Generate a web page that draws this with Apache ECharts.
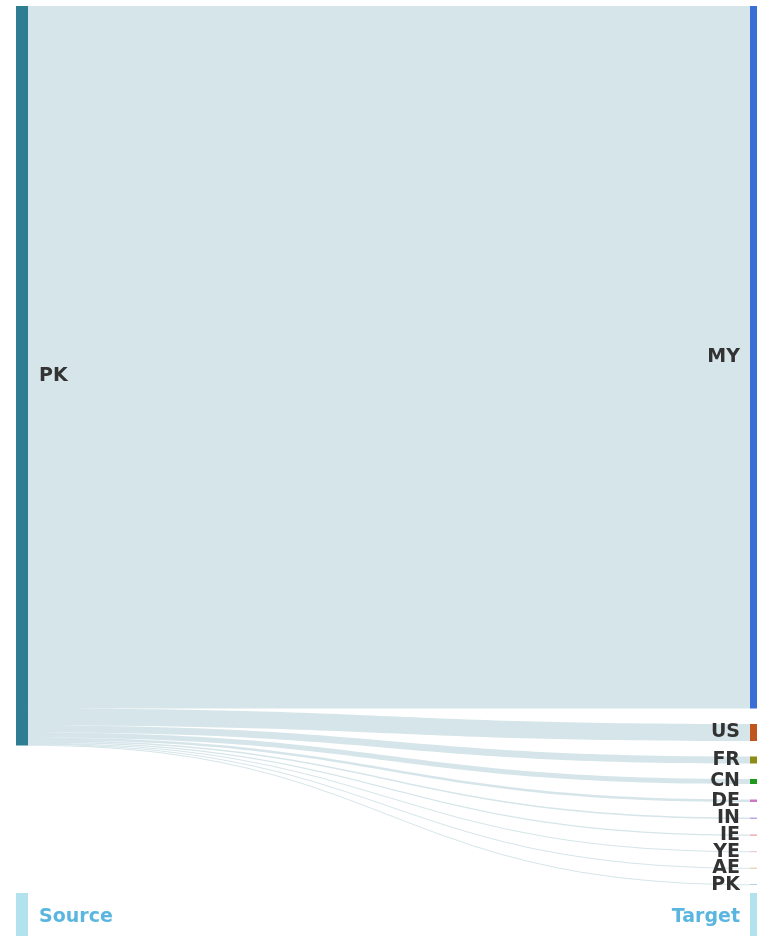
<!DOCTYPE html>
<html>
<head>
<meta charset="utf-8">
<script src="https://cdn.jsdelivr.net/npm/echarts@6/dist/echarts.min.js"></script>
<style>
  html, body { margin: 0; padding: 0; background: #fff; }
  #main { width: 757px; height: 936px; }
</style>
</head>
<body>
<div id="main"></div>
<script>
// source country and where its flows go
const sourceName = "PK";
const targetNames = ["MY", "US", "FR", "CN", "DE", "IN", "IE", "YE", "AE", "PK"];
const flowValues = [7020, 170, 70, 50, 25, 15, 12, 10, 10, 8];

// the "Source" / "Target" key at the bottom
const keyNames = ["Source", "Target"];
const keyValue = [1];

const sourceColor = "#2e7d92";
const targetColors = ["#3b6fd8", "#c0561e", "#8c8c18", "#1f9a1f", "#c878c4",
  "#bca6e4", "#ee9a9e", "#e6c2c4", "#d8c89c", "#a2c8d8"];
const keyColor = "#b3e2ef";

const labelFont = {
  fontFamily: "DejaVu Sans",
  fontWeight: "bold",
  fontSize: 19,
  color: "#333"
};

const chart = echarts.init(document.getElementById("main"));

// target names must be unique, so the second PK gets a trailing space
const targetIds = targetNames.map((n) => (n === sourceName ? n + " " : n));

const nodes = [
  {
    name: sourceName,
    itemStyle: { color: sourceColor },
    label: { position: "right", distance: 11 }
  }
].concat(
  targetIds.map((id, i) => ({
    name: id,
    itemStyle: { color: targetColors[i] },
    label: { position: "left", distance: 10 }
  }))
);

const links = targetIds.map((id, i) => ({
  source: sourceName,
  target: id,
  value: flowValues[i]
}));

const option = {
  animation: false,
  series: [
    {
      type: "sankey",
      left: 16,
      right: -5,
      top: 6,
      bottom: 51,
      nodeWidth: 12,
      nodeGap: 15.5,
      layoutIterations: 0,
      draggable: false,
      emphasis: { disabled: true },
      label: Object.assign({ formatter: (p) => p.name.trim() }, labelFont),
      lineStyle: { color: "source", opacity: 0.2, curveness: 0.5 },
      data: nodes,
      links: links
    },
    {
      // legend-like key: two nodes joined by an invisible link
      type: "sankey",
      left: 16,
      right: -5,
      top: 893,
      bottom: -5,
      nodeWidth: 12,
      layoutIterations: 0,
      draggable: false,
      emphasis: { disabled: true },
      label: Object.assign({}, labelFont, { color: "#5ab6e0" }),
      lineStyle: { opacity: 0 },
      data: [
        { name: keyNames[0], itemStyle: { color: keyColor }, label: { position: "right", distance: 11 } },
        { name: keyNames[1], itemStyle: { color: keyColor }, label: { position: "left", distance: 10 } }
      ],
      links: [{ source: keyNames[0], target: keyNames[1], value: keyValue[0] }]
    }
  ]
};

chart.setOption(option);
</script>
</body>
</html>
